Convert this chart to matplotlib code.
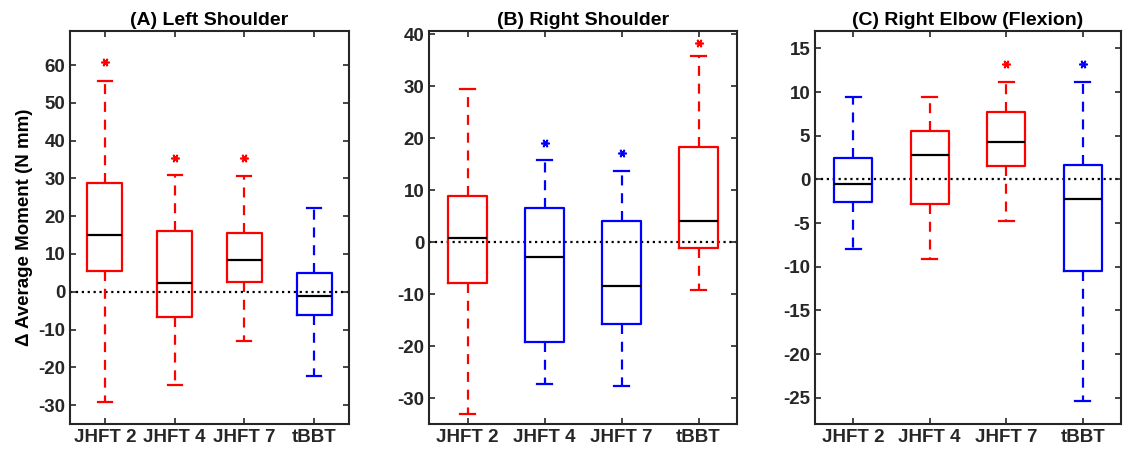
import matplotlib
matplotlib.use("Agg")
import matplotlib.pyplot as plt

plt.rcParams['font.family'] = ['Liberation Sans', 'DejaVu Sans']
plt.rcParams['font.weight'] = 'bold'
plt.rcParams['axes.unicode_minus'] = False

groups = ["JHFT 2", "JHFT 4", "JHFT 7", "tBBT"]
titles = ["(A) Left Shoulder", "(B) Right Shoulder", "(C) Right Elbow (Flexion)"]

# per panel: lower whisker, Q1, median, Q3, upper whisker (one list per group)
low_whisker = [[-29.1, -24.7, -13.1, -22.3],
               [-33.0, -27.3, -27.7, -9.2],
               [-8.0, -9.1, -4.7, -25.4]]
q1 = [[5.6, -6.7, 2.6, -6.2],
      [-7.9, -19.2, -15.7, -1.1],
      [-2.6, -2.8, 1.5, -10.5]]
median = [[15.0, 2.4, 8.4, -1.2],
          [0.8, -2.9, -8.4, 4.0],
          [-0.5, 2.8, 4.3, -2.2]]
q3 = [[28.9, 16.2, 15.5, 5.0],
      [8.8, 6.6, 4.1, 18.2],
      [2.5, 5.5, 7.7, 1.6]]
high_whisker = [[55.8, 30.9, 30.7, 22.2],
                [29.5, 15.8, 13.6, 35.8],
                [9.5, 9.4, 11.2, 11.2]]
colors = [['r', 'r', 'r', 'b'],
          ['r', 'b', 'b', 'r'],
          ['b', 'r', 'r', 'b']]
# significance stars: (group index, y position)
stars = [[(0, 60.8), (1, 35.5), (2, 35.5)],
         [(1, 19.1), (2, 17.2), (3, 38.2)],
         [(2, 13.2), (3, 13.2)]]
ylims = [(-35, 69), (-35, 40.6), (-28, 17)]
yticks = [list(range(-30, 61, 10)), list(range(-30, 41, 10)), list(range(-25, 16, 5))]

fig = plt.figure(figsize=(11.29, 4.55), dpi=100)
W, H = 1129, 455
boxes = [(70, 349), (429, 737), (815, 1121)]
top, bottom = 31, 424

cmap = {'r': '#ff0000', 'b': '#0000ff'}

for p in range(3):
    l, r = boxes[p]
    ax = fig.add_axes([l / W, 1 - bottom / H, (r - l) / W, (bottom - top) / H])
    ax.axhline(0, color='black', linestyle=':', linewidth=1.6, zorder=1)
    for i in range(4):
        st = [{'whislo': low_whisker[p][i], 'q1': q1[p][i], 'med': median[p][i],
               'q3': q3[p][i], 'whishi': high_whisker[p][i], 'fliers': []}]
        c = cmap[colors[p][i]]
        ax.bxp(st, positions=[i + 1], widths=0.5, showfliers=False,
               capwidths=0.2,
               boxprops=dict(color=c, linewidth=1.6),
               whiskerprops=dict(color=c, linewidth=1.6, linestyle=(0, (4.5, 3.5))),
               capprops=dict(color=c, linewidth=1.6),
               medianprops=dict(color='black', linewidth=1.6))
    for gi, y in stars[p]:
        ax.plot(gi + 1, y, marker=(6, 2, 90), markersize=6, markeredgewidth=1.2,
                color=cmap[colors[p][gi]], linestyle='none')
    ax.set_xlim(0.5, 4.5)
    ax.set_ylim(*ylims[p])
    ax.set_yticks(yticks[p])
    ax.set_xticks(range(1, 5))
    ax.set_xticklabels(groups)
    ax.tick_params(direction='in', top=True, right=True, labelsize=13.5,
                   length=4, width=1.2, colors='#262626')
    for lab in ax.get_xticklabels() + ax.get_yticklabels():
        lab.set_fontweight('bold')
    for s in ax.spines.values():
        s.set_linewidth(1.5)
        s.set_color('#262626')
    ax.set_title(titles[p], fontsize=14, fontweight='bold', pad=4)
    if p == 0:
        ax.set_ylabel('\u0394 Average Moment (N mm)', fontsize=13.5, fontweight='bold')

fig.savefig('out.png', dpi=100)
